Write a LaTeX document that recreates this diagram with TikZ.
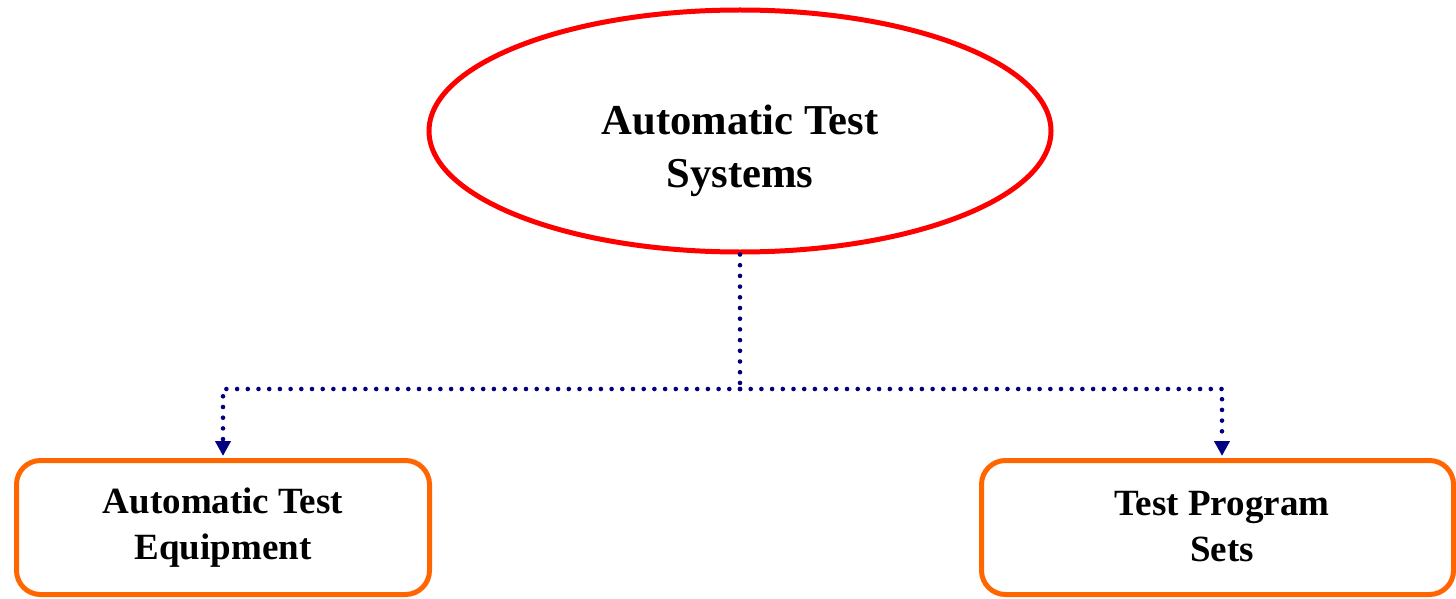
\documentclass[tikz,border=0pt]{standalone}
\usepackage{fontspec}
\setmainfont{Liberation Serif}
\usetikzlibrary{shapes.geometric,arrows.meta}
\definecolor{ellred}{RGB}{255,0,0}
\definecolor{boxorange}{RGB}{255,102,0}
\definecolor{connnavy}{RGB}{0,0,128}
\tikzset{
  topell/.style={ellipse, draw=ellred, line width=2.5pt, minimum width=311pt, minimum height=121pt, inner sep=0pt},
  topelltext/.style={align=center, yshift=-10pt, inner sep=0pt, font=\fontsize{21.3}{26.5}\selectfont\bfseries},
  leafbox/.style={draw=boxorange, line width=2.5pt, rounded corners=12pt, inner sep=0pt, minimum height=67pt,
    align=center, font=\fontsize{18.5}{23}\selectfont\bfseries},
  conn/.style={draw=connnavy, line width=2.3pt, line cap=round, dash pattern=on 0pt off 5.35pt},
  tip/.style={-{Triangle[width=7.5pt,length=7.5pt]}, shorten >=1pt}
}
\begin{document}
\begin{tikzpicture}[x=0.5pt,y=-0.5pt]
\useasboundingbox (0,0) rectangle (1456,599);
\node[topell, label={[topelltext]center:Automatic Test\\Systems}] (ats) at (740,131) {};
\node[leafbox, minimum width=206.5pt] (ate) at (223,527.5) {Automatic Test\\Equipment};
\node[leafbox, minimum width=236pt] (tps) at (1217.5,527.5) {\raisebox{1.5pt}{\hspace*{4.5pt}Test Program}\\\raisebox{1.5pt}{\hspace*{4.5pt}Sets}};
\coordinate (j) at (740,389);
\draw[conn] (ats.south) -- (j);
\draw[conn,tip] (j) -| (ate.north);
\draw[conn,tip] (j) -| ([xshift=2.25pt]tps.north);
\end{tikzpicture}
\end{document}
